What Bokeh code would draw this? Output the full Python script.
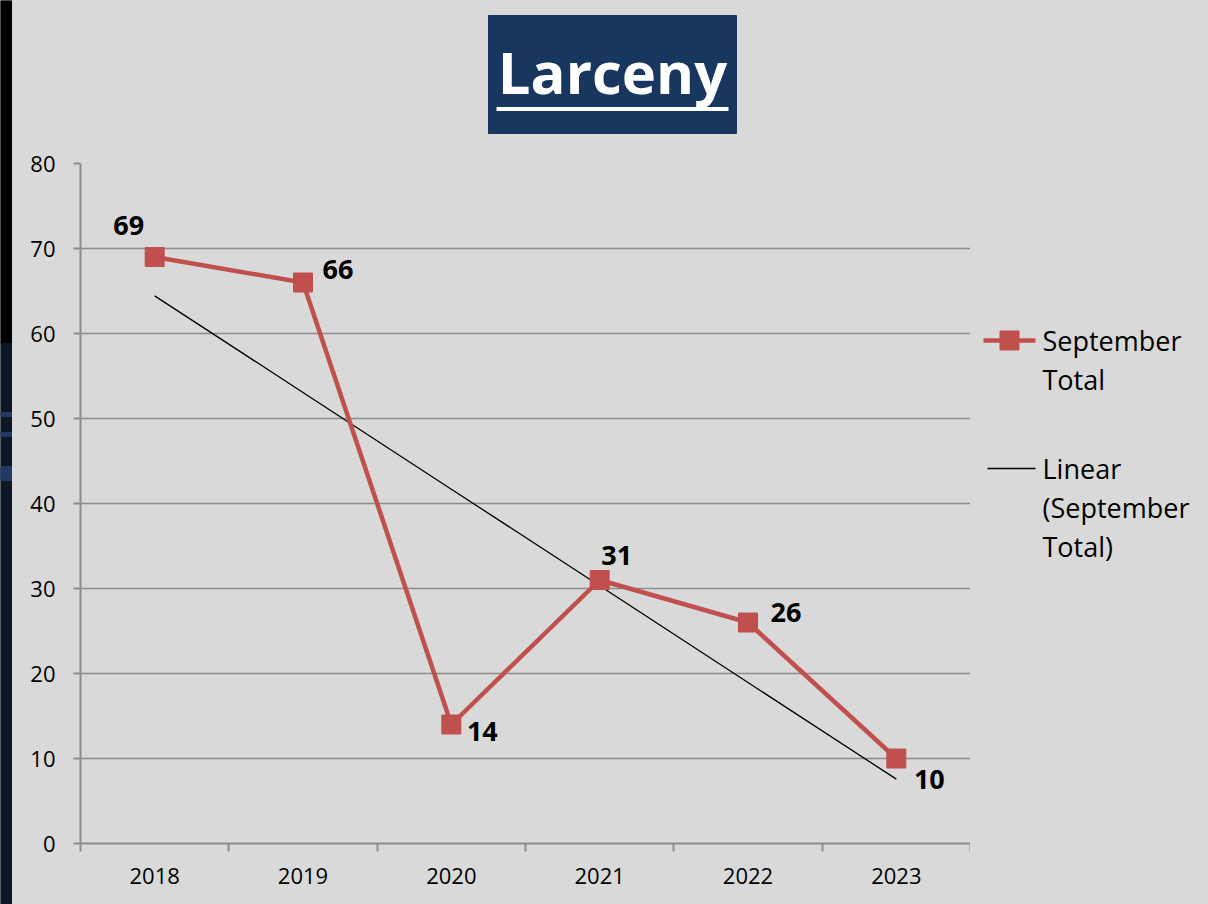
import re
import numpy as np
from bokeh.plotting import figure
from bokeh.layouts import row, column
from bokeh.models import (Range1d, FixedTicker, ColumnDataSource, LabelSet)
from bokeh.core.properties import value
from bokeh.embed import file_html
from bokeh.resources import INLINE

# ---- data ----
years = ["2018", "2019", "2020", "2021", "2022", "2023"]
september_total = [69, 66, 14, 31, 26, 10]
y_ticks = [0, 10, 20, 30, 40, 50, 60, 70, 80]
title_text = "Larceny"
series_name = ["September", "Total"]
trend_name = ["Linear", "(September", "Total)"]

# label offsets (screen px, style only)
label_dx = [-26, 35, 31, 17, 38, 33]
label_dy = [32, 13, -7, 25, 10, -21]

BG = "#d9d9d9"
RED = "#c0504d"
GRID = "#8c8c8c"
FONT = "Open Sans"

xs = list(range(1, len(years) + 1))
slope, intercept = np.polyfit(xs, september_total, 1)
trend = [slope * x + intercept for x in xs]

TITLE_H = 140
TOP_B = 23
BOT_B = 61


def bare(width, height, xr, yr, **kw):
    args = dict(min_border=0)
    args.update(kw)
    f = figure(width=width, height=height, x_range=xr, y_range=yr,
               output_backend="svg", toolbar_location=None,
               x_axis_location=None, y_axis_location=None,
               background_fill_color=BG, border_fill_color=BG,
               outline_line_color=None, **args)
    f.grid.visible = False
    return f


# ---- left decorative strip ----
strip = bare(12, 904, Range1d(0, 12), Range1d(904, 0))
strip.quad(left=0, right=12, top=0, bottom=343, color="#000000")
strip.quad(left=0, right=12, top=343, bottom=904, color="#0e1626")
strip.quad(left=0, right=12, top=[412, 432, 466], bottom=[416, 436, 480],
           color="#223a63")

# ---- title ----
tfig = bare(1196, TITLE_H, Range1d(12, 1208), Range1d(TITLE_H, 0))
tfig.quad(left=488, right=736, top=15, bottom=133, color="#17375e")
tfig.text(x=[612], y=[71], text=[title_text], text_color="white",
          text_font=value(FONT), text_font_style="bold",
          text_font_size="58px", text_align="center",
          text_baseline="alphabetic")
tfig.segment(x0=[496], y0=[108.5], x1=[728], y1=[108.5],
             line_color="white", line_width=4)

# ---- main chart ----
p = figure(width=958, height=904 - TITLE_H,
           x_range=Range1d(0.5, len(years) + 0.5),
           y_range=Range1d(0, 80), output_backend="svg", toolbar_location=None,
           min_border_left=68, min_border_right=0, min_border_top=TOP_B,
           min_border_bottom=BOT_B, background_fill_color=BG,
           border_fill_color=BG, outline_line_color=None)

p.xgrid.visible = False
p.ygrid.grid_line_color = GRID
p.ygrid.grid_line_width = 1.7
p.ygrid.ticker = FixedTicker(ticks=y_ticks)

p.yaxis.ticker = FixedTicker(ticks=y_ticks)
p.xaxis.ticker = FixedTicker(ticks=xs,
                             minor_ticks=[x - 0.5 for x in xs] + [xs[-1] + 0.5])
p.xaxis.major_label_overrides = {x: y for x, y in zip(xs, years)}

for ax in (p.xaxis, p.yaxis):
    ax.axis_line_color = GRID
    ax.axis_line_width = 2
    ax.major_tick_line_color = GRID
    ax.minor_tick_line_color = GRID
    ax.major_tick_line_width = 2
    ax.minor_tick_line_width = 2
    ax.major_label_text_font = FONT
    ax.major_label_text_font_size = "22px"
    ax.major_label_text_color = "black"

p.yaxis.major_tick_in = 0
p.yaxis.major_tick_out = 7
p.yaxis.minor_tick_out = 0
p.yaxis.minor_tick_in = 0
p.yaxis.major_label_standoff = 18

p.xaxis.major_tick_in = 0
p.xaxis.major_tick_out = 0
p.xaxis.minor_tick_in = 0
p.xaxis.minor_tick_out = 8
p.xaxis.major_label_standoff = 16

src = ColumnDataSource(dict(x=xs, y=september_total,
                            lbl=[str(v) for v in september_total],
                            dx=label_dx, dy=label_dy))

p.line(xs, trend, line_color="black", line_width=1.3)
p.line("x", "y", source=src, line_color=RED, line_width=4.5)
p.scatter("x", "y", source=src, marker="square", size=19,
          fill_color=RED, line_color=RED, line_width=1)

labels = LabelSet(x="x", y="y", text="lbl", source=src,
                  x_offset="dx", y_offset="dy",
                  text_font=value(FONT), text_font_style="bold",
                  text_font_size="27px", text_color="black",
                  text_align="center", text_baseline="middle")
p.add_layout(labels)

# ---- legend (frame spans the same screen rows as the chart frame) ----
lg = bare(238, 904 - TITLE_H, Range1d(970, 1208),
          Range1d(904 - BOT_B, TITLE_H + TOP_B),
          min_border_top=TOP_B, min_border_bottom=BOT_B)
lg.segment(x0=[983], y0=[340], x1=[1035], y1=[340], line_color=RED,
           line_width=4.5)
lg.scatter(x=[1009], y=[340], marker="square", size=19, fill_color=RED,
           line_color=RED)
lg.segment(x0=[987], y0=[468], x1=[1035], y1=[468], line_color="black",
           line_width=1.3)
lg.text(x=[1042] * 2, y=[340, 379], text=series_name, text_font=value(FONT),
        text_font_size="27px", text_color="black", text_baseline="middle")
lg.text(x=[1042] * 3, y=[468, 507, 546], text=trend_name,
        text_font=value(FONT), text_font_size="27px", text_color="black",
        text_baseline="middle")

layout = row(strip, column(tfig, row(p, lg)))
html = file_html(layout, INLINE)
css = "<style>html,body{margin:0;padding:0;background:#d9d9d9;}</style>"
html = html.replace("</head>", css + "</head>", 1)
html = re.sub(r"<body[^>]*>", '<body style="margin:0;background:#d9d9d9;">',
              html, count=1)
open("out.html", "w").write(html)
